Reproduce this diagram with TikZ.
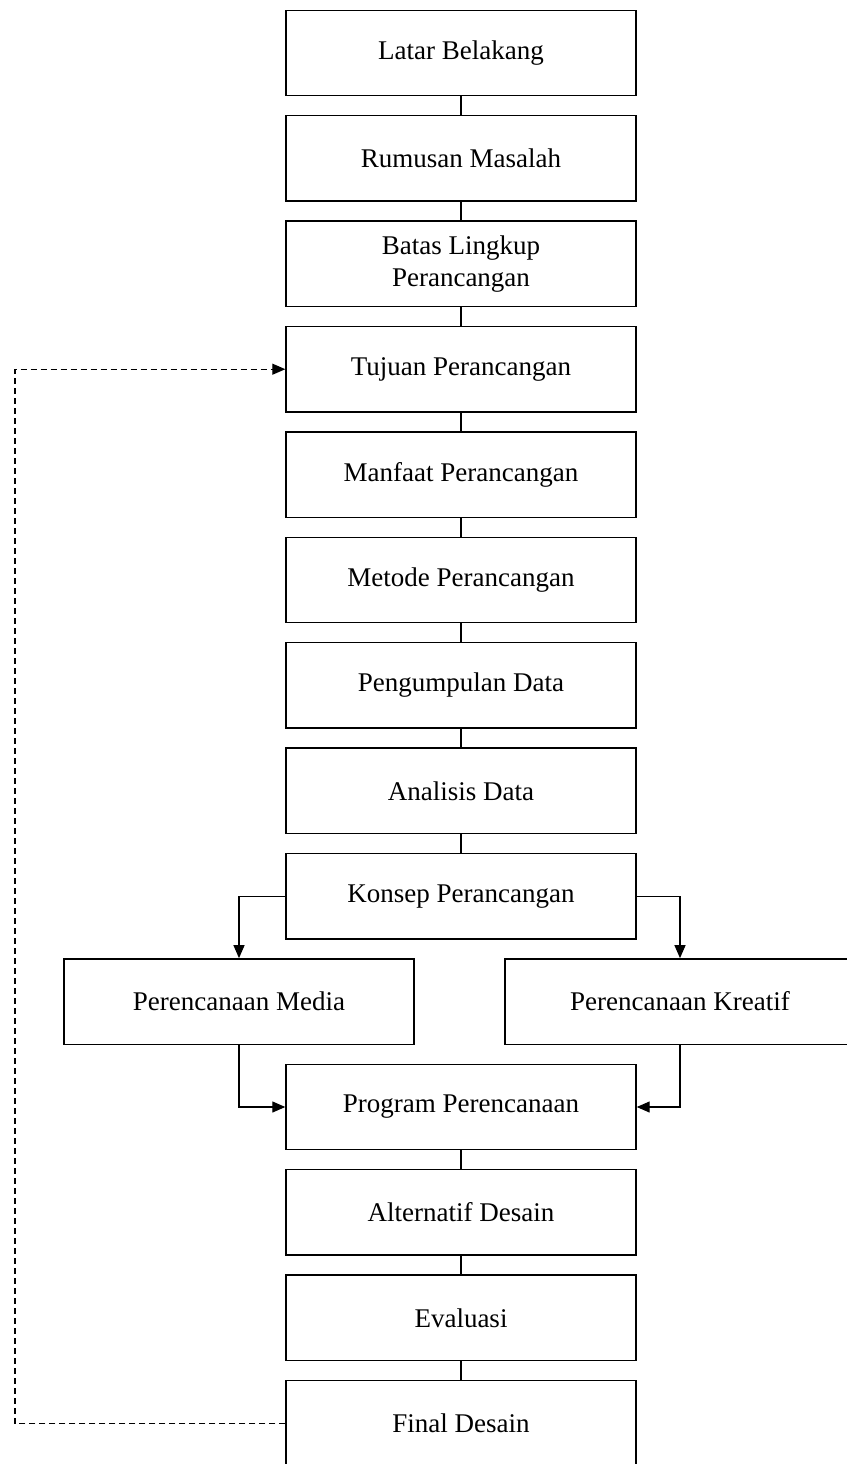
\documentclass[tikz,border=0pt]{standalone}
\usepackage{fontspec}
\setmainfont{Liberation Serif}
\usetikzlibrary{positioning,arrows.meta}

\begin{document}
\begin{tikzpicture}[x=1pt, y=-1pt,
  every node/.style={font=\fontsize{27}{32}\selectfont, align=center},
  node distance=18.5pt
]
\tikzset{
  kotak/.style={draw=black, line width=1.4pt, minimum width=350pt, minimum height=85.5pt, inner sep=0pt},
  garis/.style={draw=black, line width=1.2pt},
  panah/.style={garis, -{Triangle[length=13pt, width=11pt]}},
  putus/.style={panah, dash pattern=on 6pt off 4pt}
}
\useasboundingbox (0,0) rectangle (846,1464);

\node[kotak] (latar) at (461,53) {Latar Belakang};
\node[kotak, below=of latar] (rumusan) {Rumusan Masalah};
\node[kotak, below=of rumusan] (batas) {Batas Lingkup\\Perancangan};
\node[kotak, below=of batas] (tujuan) {Tujuan Perancangan};
\node[kotak, below=of tujuan] (manfaat) {Manfaat Perancangan};
\node[kotak, below=of manfaat] (metode) {Metode Perancangan};
\node[kotak, below=of metode] (pengumpulan) {Pengumpulan Data};
\node[kotak, below=of pengumpulan] (analisis) {Analisis Data};
\node[kotak, below=of analisis] (konsep) {Konsep Perancangan};

% dua cabang perencanaan
\node[kotak, below=of konsep, xshift=-222pt] (media) {Perencanaan Media};
\node[kotak, below=of konsep, xshift=219pt] (kreatif) {Perencanaan Kreatif};

\coordinate (bawahmedia) at (media.south -| konsep);
\node[kotak, below=of bawahmedia] (program) {Program Perencanaan};
\node[kotak, below=of program] (alternatif) {Alternatif Desain};
\node[kotak, below=of alternatif] (evaluasi) {Evaluasi};
\node[kotak, below=of evaluasi] (final) {Final Desain};

\foreach \a/\b in {latar/rumusan, rumusan/batas, batas/tujuan, tujuan/manfaat,
  manfaat/metode, metode/pengumpulan, pengumpulan/analisis, analisis/konsep,
  program/alternatif, alternatif/evaluasi, evaluasi/final}
  \draw[garis] (\a) -- (\b);

\draw[panah] (konsep.west) -| (media.north);
\draw[panah] (konsep.east) -| (kreatif.north);
\draw[panah] (media.south) |- (program.west);
\draw[panah] (kreatif.south) |- (program.east);

% umpan balik
\coordinate (balik) at (15,0 |- final.west);
\draw[putus] (final.west) -- (balik) |- (tujuan.west);
\end{tikzpicture}
\end{document}
